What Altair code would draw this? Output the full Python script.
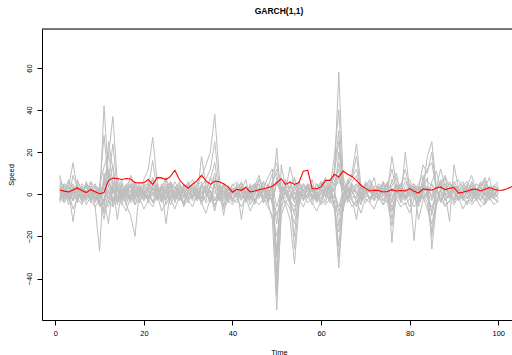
import altair as alt
import pandas as pd

# Red (observed) series, t = 1..104
red_vals = [2.0, 1.5, 1.1, 2.0, 3.0, 1.8, 0.8, 2.2, 1.2, 0.3,
            0.8, 6.5, 7.7, 7.5, 7.0, 7.5, 7.3, 5.5, 5.4, 5.5,
            7.0, 4.7, 7.9, 7.8, 7.0, 8.5, 11.4, 7.0, 4.5, 3.0,
            4.8, 6.5, 9.0, 6.5, 4.7, 6.3, 6.0, 5.0, 3.5, 1.0,
            2.4, 1.9, 3.2, 1.1, 1.6, 2.2, 2.6, 3.1, 3.8, 5.5,
            7.4, 4.7, 5.8, 4.7, 5.6, 11.0, 11.4, 2.7, 2.6, 3.5,
            6.6, 6.6, 9.5, 8.2, 11.0, 9.5, 8.5, 6.5, 4.3, 2.8,
            1.6, 1.9, 1.8, 1.1, 1.3, 2.2, 1.6, 1.8, 1.6, 2.7,
            1.5, 0.6, 2.5, 2.2, 1.9, 3.0, 3.5, 2.2, 2.8, 3.2,
            0.6, 1.0, 1.6, 2.2, 2.5, 1.6, 2.4, 3.2, 2.4, 1.9,
            2.0, 2.6, 3.6, 4.5]

# Gray simulated paths, t = 1..100
sim_a = [3, -1, 2, 5, -2, 1, 4, -3, 2, -5,
         42, 8, -4, 3, 1, -2, 5, -1, 2, 0,
         -3, 4, 2, -1, 3, 6, -2, 1, -4, 2,
         3, -1, 5, 2, -3, 1, 4, -2, 0, 3,
         -1, 2, -4, 3, 1, 5, -2, 0, 4, -6,
         2, 3, -1, 4, -2, 1, 3, -3, 2, 5,
         -1, 4, 8, 58, 6, -4, 3, 1, -2, 4,
         2, -1, 3, 0, -3, 2, 4, -2, 1, 3,
         -2, 1, 5, 2, -1, 3, -4, 2, 0, 4,
         1, -3, 2, 4, -1, 3, 0, -2, 3, 1]
sim_b = [-2, 4, 1, -3, 6, 2, -1, 3, -4, 1,
         5, 18, 37, 6, -3, 2, 4, -5, 1, 3,
         2, -4, 3, 1, -2, 5, 0, -3, 4, 2,
         -1, 3, -2, 4, 1, -3, 2, 5, -2, 1,
         3, -2, 1, 4, -3, 2, 6, -4, -12, -55,
         -8, 4, 2, -3, 5, 1, -2, 3, 0, -4,
         2, 5, -6, -35, -4, 3, 1, -2, 4, 2,
         -3, 1, 4, -1, 2, -3, 5, 1, -2, 3,
         0, 4, -2, 1, 3, -4, 2, 5, -1, 2,
         -3, 1, 4, -2, 2, 5, -1, 3, -2, 0]
sim_c = [8, 2, -3, 1, 4, -2, 5, 1, -6, -27,
         10, -4, 6, 2, -3, 4, 1, -2, 3, -1,
         4, 2, -3, 5, 1, -2, 3, 0, 2, -4,
         1, 5, 8, 14, 20, 38, 9, -6, 3, 1,
         -2, 4, 1, -3, 2, 5, -1, 3, -4, 6,
         2, -5, -12, -33, -6, 4, 1, -2, 3, 2,
         -1, 4, 2, 8, 3, -2, 5, 1, -3, 2,
         4, -1, 2, 3, -4, 1, 5, -2, 2, 0,
         3, -2, 4, 1, -3, 2, 6, -1, 2, -3,
         1, 4, -2, 3, 0, 5, -3, 2, 1, -2]
sim_d = [-3, 5, 3, 15, 2, -4, 1, 6, -2, 3,
         -8, 25, 12, -5, 4, 2, -3, 5, 1, 7,
         12, 27, 6, -3, 2, 4, -1, 3, -5, 2,
         4, -2, 3, 1, -4, 5, 2, -1, 3, -2,
         1, 4, -3, 2, 5, -1, 3, 8, 12, -45,
         14, 3, -2, 5, 1, -3, 4, 2, -1, 3,
         5, -2, 12, 30, -8, 6, 10, 24, 4, -2,
         3, 1, -3, 4, 2, -1, 3, 5, -2, 1,
         4, -3, 2, 8, -26, -6, 3, 1, -2, 4,
         2, -1, 5, 3, -3, 1, 4, -2, 2, 3]
sim_e = [5, -4, 2, -13, 1, 3, -2, 4, 1, -3,
         6, -2, 4, 1, 7, -5, -10, -20, 3, 2,
         -1, 3, 1, -4, 2, 5, -2, 1, 3, -1,
         2, -3, 4, 1, -2, 6, 3, -10, 2, 1,
         4, -12, 2, -1, 3, 2, -4, 5, 1, 22,
         -3, 2, 13, 4, -2, 1, 3, -1, 5, 2,
         -4, 3, 1, -6, 2, 4, -2, -12, 3, 1,
         2, -3, 4, 1, 6, -23, 3, 2, -1, 4,
         1, -2, 3, 18, 25, 4, -3, 2, 5, 1,
         -2, 3, 1, -4, 2, 0, 3, -1, 4, 2]
sim_f = [1, 3, -2, 4, -1, 2, 5, -3, 1, 4,
         13, 20, 5, -12, 2, 1, 4, -2, 3, 1,
         -2, 5, 1, 3, -14, 2, 4, -1, 2, 3,
         1, -2, 18, 4, 2, -3, 1, 5, -2, 3,
         2, -1, 4, 1, -3, 3, 2, -2, 5, -30,
         4, 1, -3, 2, 6, -1, 3, 2, -4, 1,
         3, 2, -2, 20, 5, -1, 4, 2, -3, 5,
         1, 3, -2, 4, 2, 18, 5, -3, 20, 2,
         -22, 3, 1, 4, -2, 3, 5, 1, -13, 14,
         3, -2, 1, 4, 2, -3, 5, 1, -1, 3]
sim_g = [9, 0, 4, -3, 7, 1, -2, 6, 3, -1,
         4, 10, -6, 8, 2, -1, 9, 3, -4, 5,
         1, 7, -2, 3, 8, -3, 2, 6, -1, 4,
         7, 2, -5, 6, 3, 10, -2, 4, 1, -3,
         5, 2, 7, -2, 4, 9, 1, -3, 6, 10,
         -2, 6, 3, 8, -1, 5, 2, 7, -3, 4,
         8, 1, 6, 12, -2, 7, 3, 5, -1, 6,
         3, 8, -2, 5, 2, 6, 10, -1, 4, 7,
         2, 5, 9, -1, 6, 11, 3, 8, -2, 5,
         7, 2, 4, 9, 1, 6, 3, 8, -1, 4]
sim_h = [-1, -4, 1, -7, -2, -5, 0, -3, -6, -2,
         -9, -3, -6, 0, -4, -8, -1, -5, -2, -7,
         -3, -6, 0, -8, -4, -2, -7, -1, -5, -3,
         -6, 0, -4, -9, -2, -5, -1, -7, -3, -5,
         -2, -6, -1, -8, -3, -5, -2, -6, -10, -20,
         -5, -3, -7, -14, -2, -6, -1, -4, -8, -3,
         -5, -2, -7, -18, -4, -1, -6, -3, -9, -2,
         -4, -7, -1, -5, -3, -8, -2, -6, -4, -9,
         -2, -5, -1, -7, -14, -4, -2, -6, -3, -5,
         -1, -7, -3, -5, -2, -6, -4, -1, -5, -3]
sim_i = [4, 1, 7, 2, -3, 5, 3, -1, 4, 2,
         -4, 12, 3, 6, -2, 4, 7, 1, 5, -3,
         6, 2, 5, -1, 7, 3, 0, 5, 2, 6,
         -2, 4, 6, 1, 8, 3, -3, 5, 2, 4,
         6, 1, -2, 5, 3, 7, 2, 4, -5, 8,
         3, 7, 1, -4, 6, 2, 5, -1, 3, 6,
         2, 7, 4, 15, 3, 5, 8, 12, 2, 4,
         6, 1, 5, 3, -2, 7, 2, 4, 12, 3,
         5, -3, 8, 6, 4, 2, 7, 3, 5, 1,
         4, 6, 2, -1, 5, 3, 7, 2, 4, 6]
sim_j = [-3, 2, -5, 3, 0, -2, 2, -4, 1, -6,
         -2, -14, 4, -3, 1, -5, 2, -3, -1, 2,
         -4, 1, -2, 3, -5, 0, -3, 2, -6, 1,
         -2, 3, -4, -1, 2, -6, 1, -3, 0, -4,
         1, -3, 2, -5, 0, -2, 3, -4, 1, -38,
         -3, 1, -4, -20, 2, -3, 0, -5, 1, -2,
         3, -4, -3, -25, 0, 2, -3, -6, 1, -2,
         -4, 2, -1, -5, 1, -3, 2, -4, 0, -6,
         2, -12, -3, 1, -18, -5, 2, -3, 0, -4,
         1, -2, -5, 2, -3, 0, -4, 1, -2, -3]
sim_k = [2, -2, 6, 0, 3, -1, 5, 2, -3, 3,
         28, 6, 24, 2, -1, 5, 3, 0, 4, -2,
         3, 16, 1, 4, -3, 2, 6, 1, -2, 5,
         3, 0, 4, 7, 12, 25, 4, 1, -1, 2,
         3, 5, -2, 2, 4, 0, 6, 3, 10, 15,
         1, 4, 6, -2, 3, 5, 1, 4, -2, 3,
         6, 3, 18, 40, 2, 4, 8, 18, 1, 3,
         5, 2, 0, 6, 3, 12, 2, 5, 8, 1,
         4, 2, 14, 10, 20, 3, 12, 4, 6, 2,
         3, 5, 1, 6, 2, 4, 8, 0, 3, 5]
sim_l = [0, 3, -1, 2, 5, -3, 1, 3, -2, 2,
         0, -6, 2, -4, 3, 1, -2, 4, 0, 3,
         -1, 2, 4, -2, 1, 3, -4, 2, 1, -2,
         3, 1, -2, 4, 0, -8, 2, 1, -3, 2,
         0, 3, -1, 2, -4, 1, 3, 0, -2, -28,
         2, 0, -2, -10, 3, 1, -1, 2, -3, 1,
         0, 3, 2, -15, 1, -2, 3, 0, -5, 2,
         1, -2, 3, 0, 2, -12, 1, 3, -2, 0,
         2, -4, 1, 3, -10, 0, 2, -3, 1, 2,
         -1, 2, 0, 3, -2, 1, 2, -1, 0, 2]
sim_m = [-2, 1, 3, -1, 2, 0, -3, 1, 2, -1,
         3, -2, 1, 4, -1, 2, -3, 0, 2, 1,
         -2, 3, 0, -1, 4, -2, 1, 3, -1, 0,
         2, -3, 1, 2, -1, 4, 0, -2, 3, 1,
         -1, 2, -3, 0, 4, -1, 2, 1, -3, 6,
         0, -2, 3, 1, -4, 2, 0, 3, -1, 2,
         1, -3, 4, 9, -1, 2, 0, 5, -2, 1,
         3, 0, -2, 2, 1, -4, 3, 0, 2, -1,
         1, 3, -2, 0, 5, 1, -1, 3, 0, 2,
         -2, 1, 3, 0, -1, 2, 1, -3, 2, 0]
sim_n = [1, -3, 0, 2, -4, 3, 1, -2, 0, 3,
         -5, 4, -2, 1, 3, -3, 0, 2, -4, 1,
         2, -1, 3, -3, 0, 2, -2, 4, 1, -3,
         0, 2, -1, -3, 4, 1, -2, 2, -4, 0,
         3, -1, 1, -2, 0, 3, -4, 2, 0, -14,
         3, 1, -5, -8, 0, -2, 3, -1, 0, -3,
         2, 0, -5, -10, 3, -1, 2, -4, 0, 3,
         -2, 1, 2, -3, 0, -8, 2, -1, -3, 2,
         0, -6, 2, -1, -8, 2, -3, 0, 1, -2,
         2, -1, -2, 1, 0, -3, 2, 0, -2, 1]
sim_o = [6, 2, -2, 9, 3, -1, 6, 0, 4, -2,
         8, 4, 14, -2, 5, 3, -1, 6, 2, 4,
         5, 0, 4, 2, -2, 6, 3, -1, 5, 1,
         4, 6, 0, 3, 7, 15, 1, 3, -2, 5,
         2, 6, 1, 4, 0, 7, 3, -1, 5, 12,
         6, 0, 4, 7, 2, -1, 5, 3, 0, 6,
         3, 5, 10, 25, 8, 1, 6, 9, 0, 4,
         7, 3, 1, 6, -1, 4, 8, 2, 6, 3,
         5, 1, 6, 12, 15, 2, 5, 9, 3, 6,
         2, 4, 6, 1, 5, 3, 6, 2, 4, 3]
sim_p = [-4, 0, -2, 1, -3, 2, -5, -1, 2, -3,
         -12, 2, -3, -1, -5, 1, -4, -2, 0, -3,
         1, -4, -1, -3, 2, -5, 0, -2, -4, 1,
         -3, -1, 2, -4, -2, -3, 0, -5, -1, -2,
         -4, 1, -3, -1, -5, 0, -2, -4, 1, -48,
         -10, -4, -1, -26, -3, 0, -4, -2, -1, -5,
         -2, 1, -4, -30, -6, -1, -3, -5, 0, -4,
         -1, -3, 0, -2, -4, -15, -1, -3, -5, -2,
         -6, -3, 0, -4, -20, -2, -1, -5, -3, 0,
         -3, -1, -4, -2, 0, -3, -5, -1, -2, -4]
sim_q = [2, 5, 0, 3, 1, 4, -1, 2, 5, 0,
         3, 6, 2, 4, 0, 3, 5, 1, -1, 4,
         2, 8, 1, 3, 5, 0, 2, 4, 1, 3,
         5, 1, 3, 0, 4, 8, 2, 0, 4, 2,
         1, 4, 0, 3, 5, 2, 4, 1, 3, 5,
         2, 4, 6, 0, 3, 2, 4, 1, 5, 2,
         4, 1, 3, 6, 2, 4, 1, 3, 5, 0,
         2, 4, 3, 1, 5, 2, 0, 4, 2, 5,
         1, 3, 4, 2, 0, 4, 2, 3, 1, 4,
         3, 0, 2, 5, 1, 3, 0, 4, 2, 1]
sim_r = [-1, -2, 1, -3, 0, -1, 2, -2, -1, 0,
         -3, 1, -2, -4, 0, -1, -3, 1, -2, 0,
         -1, -3, 1, 0, -2, -1, 1, -3, 0, -2,
         -1, 1, -3, 0, -2, -1, -3, 0, 1, -2,
         0, -2, -1, 1, -3, 0, -1, -2, 0, -10,
         -2, 0, -3, -6, 1, -2, 0, -1, -3, 0,
         -1, -2, 0, -8, -3, 1, -1, -2, -4, 0,
         -2, 1, -1, -3, 0, -6, -1, 0, -2, -1,
         0, -3, 1, -2, -6, -1, 0, -2, -1, 1,
         -2, 0, -1, -3, 1, -1, -2, 0, 1, -2]

sims = [sim_a, sim_b, sim_c, sim_d, sim_e, sim_f, sim_g, sim_h, sim_i,
        sim_j, sim_k, sim_l, sim_m, sim_n, sim_o, sim_p, sim_q, sim_r]

x_ticks = [0, 20, 40, 60, 80, 100]
y_ticks = [-40, -20, 0, 20, 40, 60]

rows = []
for k, s in enumerate(sims):
    for i, v in enumerate(s):
        rows.append({"t": i + 1, "v": v, "path": k})
gray_df = pd.DataFrame(rows)
red_df = pd.DataFrame({"t": list(range(1, len(red_vals) + 1)), "v": red_vals})

FONT = "Liberation Sans"
W, H = 470, 291

xscale = alt.Scale(domain=[-3.0, 103.1], nice=False, zero=False)
yscale = alt.Scale(domain=[-59.7, 78.5], nice=False, zero=False)

xaxis = alt.Axis(values=x_ticks, title="Time", grid=False, format="d",
                 domainColor="black", tickColor="black", tickSize=5,
                 labelFont=FONT, labelFontSize=7.5, labelColor="black",
                 labelPadding=4, titleFont=FONT, titleFontSize=7.5,
                 titleFontWeight="normal", titleColor="black",
                 titleX=237, titleY=32, titleBaseline="middle", titleAlign="center")
yaxis = alt.Axis(values=y_ticks, title="Speed", grid=False, format="d",
                 domainColor="black", tickColor="black", tickSize=5,
                 labelFont=FONT, labelFontSize=7.5, labelColor="black",
                 labelAngle=270, labelAlign="center", labelBaseline="bottom",
                 labelPadding=4, titleFont=FONT, titleFontSize=7.5,
                 titleFontWeight="normal", titleColor="black",
                 titleX=-31, titleY=H / 2, titleAngle=270, titleAlign="center",
                 titleBaseline="middle")

gray = alt.Chart(gray_df).mark_line(color="#BEBEBE", strokeWidth=1, clip=True).encode(
    x=alt.X("t:Q", scale=xscale, axis=xaxis),
    y=alt.Y("v:Q", scale=yscale, axis=yaxis),
    detail="path:N",
)
red = alt.Chart(red_df).mark_line(color="#FF0000", strokeWidth=1.1, clip=True).encode(
    x=alt.X("t:Q", scale=xscale),
    y=alt.Y("v:Q", scale=yscale),
)
top = alt.Chart(alt.Data(values=[{}])).mark_rule(color="black", strokeWidth=1).encode(
    x=alt.value(0), x2=alt.value(W), y=alt.value(0)
)

chart = alt.layer(gray, red, top).properties(
    width=W, height=H,
    title=alt.TitleParams("GARCH(1,1)", font=FONT, fontSize=8.5, fontWeight="bold",
                          color="black", anchor="middle", offset=6, dx=2,
                          baseline="alphabetic"),
    autosize=alt.AutoSizeParams(type="none"),
    padding={"left": 42, "top": 29, "right": 0, "bottom": 35},
).configure_view(stroke=None).configure(background="white")

chart.save("out.html", embed_options={"renderer": "svg", "actions": False})
